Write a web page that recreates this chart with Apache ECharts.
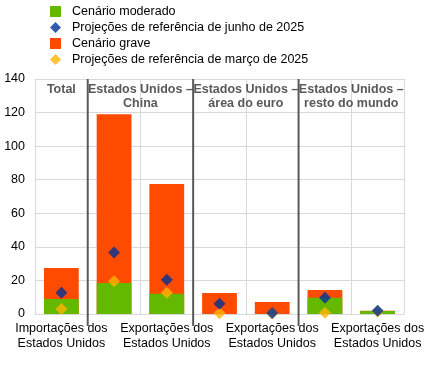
<!DOCTYPE html>
<html><head><meta charset="utf-8">
<script src="https://cdn.jsdelivr.net/npm/echarts@6/dist/echarts.min.js"></script>
<style>html,body{margin:0;padding:0;background:#fff}#c{width:432px;height:369px}</style>
</head><body><div id="c"></div>
<script>
const xLabels = ['Importações dos\nEstados Unidos','Importações dos\nEstados Unidos','Exportações dos\nEstados Unidos','Importações dos\nEstados Unidos','Exportações dos\nEstados Unidos','Importações dos\nEstados Unidos','Exportações dos\nEstados Unidos'];
const moderado = [8.9, 18.5, 12.1, 0, 0, 9.7, 1.8];
const grave = [27.4, 119.0, 77.4, 12.5, 7.1, 14.3, 1.9];
const junho = [12.7, 36.7, 20.4, 6.1, 0.6, 9.7, 2.0];
const marco = [3.0, 19.5, 12.7, 0.4, 0.3, 0.8, 1.5];
const groups = [
  {label:'Total', from:0, to:0},
  {label:'Estados Unidos –\nChina', from:1, to:2},
  {label:'Estados Unidos –\nárea do euro', from:3, to:4},
  {label:'Estados Unidos –\nresto do mundo', from:5, to:6}
];
const yTicks = {min:0, max:140, interval:20};
const names = ['Cenário moderado','Projeções de referência de junho de 2025','Cenário grave','Projeções de referência de março de 2025'];
const colors = {moderado:'#65b800', grave:'#ff4b00', junho:'#003299', marco:'#ffb400'};
const FONT = 'Liberation Sans, Arial, sans-serif';

const chart = echarts.init(document.getElementById('c'), null, {renderer:'canvas'});
chart.setOption({
  animation:false,
  textStyle:{fontFamily:FONT},
  legend:{
    orient:'vertical', left:45, top:0, itemGap:3, itemWidth:11, itemHeight:11,
    textStyle:{fontFamily:FONT, fontSize:12.5, color:'#000', padding:[0,0,0,6]},
    data:[
      {name:names[0], icon:'rect'},
      {name:names[1], icon:'diamond'},
      {name:names[2], icon:'rect'},
      {name:names[3], icon:'diamond'}
    ]
  },
  grid:{left:35, right:28, top:79, bottom:55, containLabel:false},
  xAxis:{
    type:'category', data:xLabels,
    axisLine:{show:true, lineStyle:{color:'#d9d9d9'}},
    axisTick:{show:false},
    axisLabel:{interval:1, color:'#000', fontFamily:FONT, fontSize:12.5, lineHeight:15, margin:7},
    splitLine:{show:true, interval:0, lineStyle:{color:'#d9d9d9'}}
  },
  yAxis:{
    type:'value', min:yTicks.min, max:yTicks.max, interval:yTicks.interval,
    axisLine:{show:false}, axisTick:{show:false},
    axisLabel:{color:'#000', fontFamily:FONT, fontSize:12.5, margin:10},
    splitLine:{lineStyle:{color:'#d9d9d9'}}
  },
  series:[
    {name:names[2], type:'bar', data:grave, barWidth:'66%', barGap:'-100%', itemStyle:{color:colors.grave}},
    {name:names[0], type:'bar', data:moderado, barWidth:'66%', barGap:'-100%', itemStyle:{color:colors.moderado}},
    {name:names[3], type:'scatter', data:marco, symbol:'diamond', symbolSize:12, itemStyle:{color:colors.marco}, z:3},
    {name:names[1], type:'scatter', data:junho, symbol:'diamond', symbolSize:12, itemStyle:{color:colors.junho}, z:4}
  ]
});

// group separators and headers via the axis scale
const yTop = chart.convertToPixel({yAxisIndex:0}, yTicks.max);
const yBottom = chart.convertToPixel({yAxisIndex:0}, 0);
const x0 = chart.convertToPixel({xAxisIndex:0}, 0);
const x1 = chart.convertToPixel({xAxisIndex:0}, 1);
const step = x1 - x0;
const gfx = [];
groups.forEach((g, i) => {
  const left = chart.convertToPixel({xAxisIndex:0}, g.from) - step/2;
  const right = chart.convertToPixel({xAxisIndex:0}, g.to) + step/2;
  if (i > 0) {
    gfx.push({type:'line', shape:{x1:left, y1:yTop, x2:left, y2:yBottom+12}, style:{stroke:'#595959', lineWidth:2}, z:10});
  }
  gfx.push({type:'text', x:(left+right)/2, y:yTop+4, style:{text:g.label, fill:'#595959', font:'bold 12.5px ' + FONT, align:'center', verticalAlign:'top', lineHeight:14}, z:10});
});
chart.setOption({graphic:gfx});
</script>
</body></html>
